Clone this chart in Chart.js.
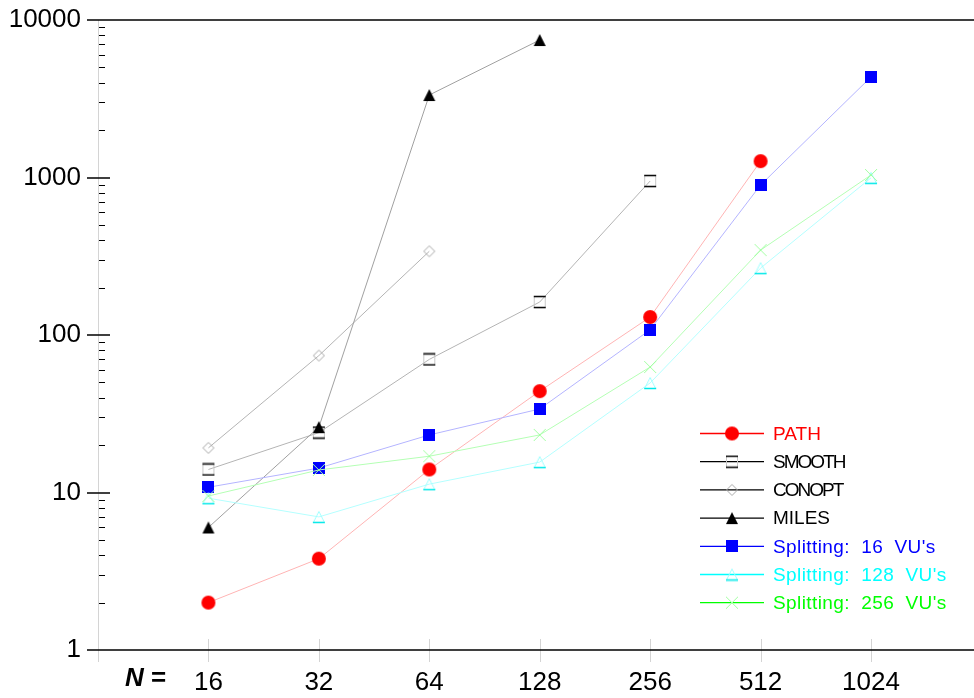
<!DOCTYPE html>
<html>
<head>
<meta charset="utf-8">
<script src="https://cdn.jsdelivr.net/npm/chart.js@4.4.1/dist/chart.umd.min.js"></script>
<style>
  html, body { margin: 0; padding: 0; background: #fff; }
  #wrap { width: 974px; height: 698px; position: relative; }
</style>
</head>
<body>
<div id="wrap"><canvas id="chart"></canvas></div>
<script>
// Problem sizes on the x axis
var nLabels = ['16', '32', '64', '128', '256', '512', '1024'];
// y axis labels (log scale)
var yTicks = [1, 10, 100, 1000, 10000];

// Solve times (null = no run)
var pathVals    = [2, 3.8, 14, 44, 130, 1270, null];
var smoothVals  = [14, 24, 70, 162, 950, null, null];
var conoptVals  = [19.2, 74, 340, null, null, null, null];
var milesVals   = [6, 26, 3340, 7460, null, null, null];
var split16Vals = [10.8, 14.3, 23.2, 33.9, 108, 896, 4350];
var split128Vals = [9.2, 7.0, 11.3, 15.6, 49.6, 266, 995];
var split256Vals = [9.5, 13.9, 17, 23.2, 62.6, 346, 1037];

var FONT = "'Liberation Sans', Arial, sans-serif";

// little canvases used as point markers (plot + legend)
function marker(w, h, draw) {
  var c = document.createElement('canvas');
  c.width = w; c.height = h;
  draw(c.getContext('2d'));
  return c;
}
var mPath = marker(16, 16, function(g) {
  g.fillStyle = '#ff0000';
  g.beginPath(); g.arc(8, 8, 7, 0, Math.PI * 2); g.fill();
});
var mSmooth = marker(14, 14, function(g) {
  g.strokeStyle = '#c8c8c8'; g.lineWidth = 1;
  g.beginPath(); g.moveTo(1.5, 1.5); g.lineTo(1.5, 12.5); g.moveTo(12.5, 1.5); g.lineTo(12.5, 12.5); g.stroke();
  g.strokeStyle = '#000'; g.lineWidth = 1.5;
  g.beginPath(); g.moveTo(1, 1.5); g.lineTo(13, 1.5); g.moveTo(1, 12.5); g.lineTo(13, 12.5); g.stroke();
});
var mConopt = marker(14, 14, function(g) {
  g.strokeStyle = '#a8a8a8'; g.lineWidth = 1;
  g.beginPath(); g.moveTo(7, 1.5); g.lineTo(12.5, 7); g.lineTo(7, 12.5); g.lineTo(1.5, 7); g.closePath(); g.stroke();
});
var mMiles = marker(14, 14, function(g) {
  g.fillStyle = '#000';
  g.beginPath(); g.moveTo(7, 1); g.lineTo(13, 13); g.lineTo(1, 13); g.closePath(); g.fill();
});
var mSplit16 = marker(12, 12, function(g) {
  g.fillStyle = '#0000ff'; g.fillRect(0, 0, 12, 12);
});
var mSplit128 = marker(14, 14, function(g) {
  g.strokeStyle = '#a0ffff'; g.lineWidth = 1;
  g.beginPath(); g.moveTo(1.5, 12.5); g.lineTo(7, 1.5); g.lineTo(12.5, 12.5); g.stroke();
  g.strokeStyle = '#00e8e8'; g.lineWidth = 1.5;
  g.beginPath(); g.moveTo(1, 12.5); g.lineTo(13, 12.5); g.stroke();
});
var mSplit256 = marker(14, 14, function(g) {
  g.strokeStyle = '#a0ffa0'; g.lineWidth = 1;
  g.beginPath(); g.moveTo(1, 1); g.lineTo(13, 13); g.moveTo(13, 1); g.lineTo(1, 13); g.stroke();
});

function pts(vals) {
  var out = [];
  vals.forEach(function(v, i) { if (v !== null) out.push({ x: i + 1, y: v }); });
  return out;
}

function series(label, vals, line, mark, legendLine, textColor, order) {
  return {
    label: label,
    data: pts(vals),
    borderColor: line,
    borderWidth: 1,
    pointStyle: mark,
    pointRadius: 7,
    fill: false,
    tension: 0,
    order: order,
    legendLine: legendLine,
    textColor: textColor
  };
}

// axis decoration: minor ticks, short major ticks, gray axis + category ticks
var axisDeco = {
  id: 'axisDeco',
  beforeDatasetsDraw: function(chart) {
    var ctx = chart.ctx, xs = chart.scales.x, ys = chart.scales.y, a = chart.chartArea;
    var x0 = xs.getPixelForValue(0);
    ctx.save();
    ctx.strokeStyle = '#d4d4d4'; ctx.lineWidth = 1;
    ctx.beginPath();
    ctx.moveTo(x0 + 0.5, a.top); ctx.lineTo(x0 + 0.5, a.bottom + 12);
    for (var i = 1; i <= nLabels.length; i++) {
      var px = Math.round(xs.getPixelForValue(i)) + 0.5;
      ctx.moveTo(px, a.bottom - 11); ctx.lineTo(px, a.bottom + 12);
    }
    ctx.stroke();

    ctx.strokeStyle = '#000';
    ctx.lineWidth = 1;
    ctx.beginPath();
    for (var d = 1; d < 10000; d *= 10) {
      for (var m = 2; m <= 9; m++) {
        var py = Math.round(ys.getPixelForValue(m * d)) + 0.5;
        ctx.moveTo(x0 + 1, py); ctx.lineTo(x0 + 7, py);
      }
    }
    ctx.stroke();

    ctx.lineWidth = 1.5;
    ctx.beginPath();
    yTicks.forEach(function(v) {
      var py = Math.round(ys.getPixelForValue(v));
      if (v === 1 || v === 10000) {
        ctx.moveTo(x0 - 11, py); ctx.lineTo(chart.width, py);
      } else {
        ctx.moveTo(x0 - 11, py); ctx.lineTo(x0 + 12, py);
      }
    });
    ctx.stroke();
    ctx.restore();
  },
  afterDraw: function(chart) {
    var ctx = chart.ctx, a = chart.chartArea;
    ctx.save();
    // "N =" in front of the x labels
    ctx.fillStyle = '#000';
    ctx.textBaseline = 'middle';
    ctx.font = 'italic bold 26px ' + FONT;
    var nx = 125, ny = a.bottom + 29;
    ctx.fillText('N', nx, ny);
    var w = ctx.measureText('N').width;
    ctx.font = 'bold 26px ' + FONT;
    ctx.fillText(' =', nx + w, ny);

    // legend
    var lx = 700, ly = 433.5, rowH = 28.2;
    chart.data.datasets.forEach(function(ds, i) {
      var y = ly + i * rowH;
      ctx.strokeStyle = ds.legendLine;
      ctx.lineWidth = 1.3;
      ctx.beginPath(); ctx.moveTo(lx, y); ctx.lineTo(lx + 64, y); ctx.stroke();
      var mk = ds.pointStyle;
      ctx.drawImage(mk, lx + 32 - mk.width / 2, y - mk.height / 2);
      ctx.fillStyle = ds.textColor;
      ctx.font = '19px ' + FONT;
      if (ds.label === 'SMOOTH' || ds.label === 'CONOPT') ctx.letterSpacing = '-2px';
      else if (ds.label.indexOf('Splitting') === 0) ctx.letterSpacing = '0.4px';
      else ctx.letterSpacing = '0px';
      ctx.fillText(ds.label, lx + 73, y + 1);
    });
    ctx.restore();
  }
};

new Chart('chart', {
  type: 'line',
  data: {
    datasets: [
      series('PATH', pathVals, '#ffb4b4', mPath, '#ff0000', '#ff0000', 7),
      series('SMOOTH', smoothVals, '#b4b4b4', mSmooth, '#000000', '#000000', 6),
      series('CONOPT', conoptVals, '#b4b4b4', mConopt, '#000000', '#000000', 5),
      series('MILES', milesVals, '#a0a0a0', mMiles, '#000000', '#000000', 4),
      series("Splitting:  16  VU's", split16Vals, '#b4b4ff', mSplit16, '#0000ff', '#0000ff', 3),
      series("Splitting:  128  VU's", split128Vals, '#b4ffff', mSplit128, '#00ffff', '#00ffff', 2),
      series("Splitting:  256  VU's", split256Vals, '#b4ffb4', mSplit256, '#00ff00', '#00ff00', 1)
    ]
  },
  options: {
    responsive: true,
    maintainAspectRatio: false,
    animation: false,
    layout: { padding: { top: 20, right: 0, left: 0, bottom: 0 } },
    plugins: {
      legend: { display: false },
      tooltip: { enabled: false }
    },
    scales: {
      x: {
        type: 'linear',
        min: 0,
        max: 7.86,
        grid: { display: false, drawTicks: false },
        border: { display: false },
        afterFit: function(s) { s.height = 48; s.paddingLeft = 0; s.paddingRight = 0; },
        afterBuildTicks: function(s) {
          s.ticks = nLabels.map(function(l, i) { return { value: i + 1 }; });
        },
        ticks: {
          font: { family: FONT, size: 26 },
          color: '#000',
          padding: 17,
          maxRotation: 0,
          autoSkip: false,
          callback: function(v) { return nLabels[v - 1]; }
        }
      },
      y: {
        type: 'logarithmic',
        min: 1,
        max: 10000,
        grid: { display: false, drawTicks: false },
        border: { display: false },
        afterFit: function(s) { s.width = 98; s.paddingTop = 0; s.paddingBottom = 0; },
        afterBuildTicks: function(s) {
          s.ticks = yTicks.map(function(v) { return { value: v }; });
        },
        ticks: {
          font: { family: FONT, size: 26 },
          color: '#000',
          padding: 17,
          autoSkip: false,
          callback: function(v) { return String(v); }
        }
      }
    }
  },
  plugins: [axisDeco]
});
</script>
</body>
</html>
